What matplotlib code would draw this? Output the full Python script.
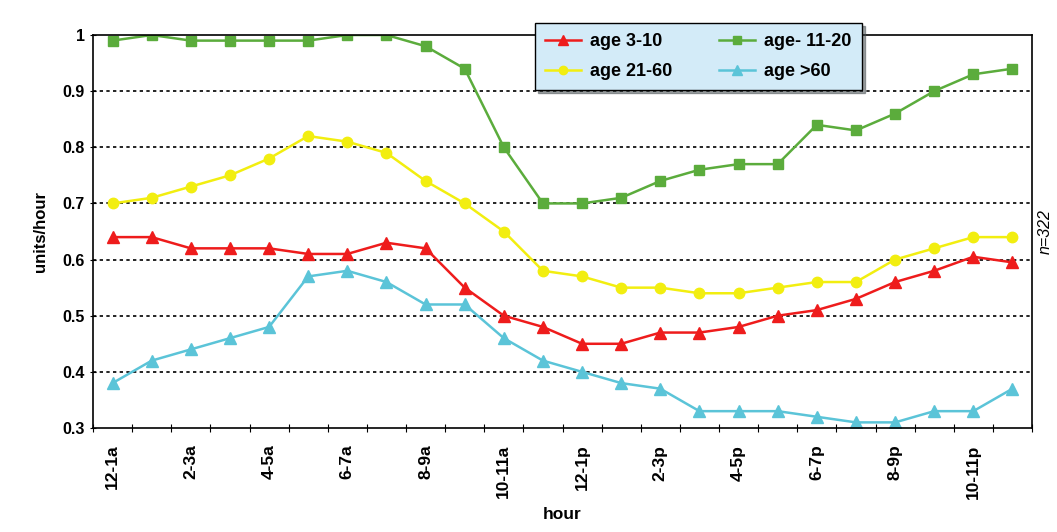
import numpy as np
import matplotlib.pyplot as plt
import matplotlib
matplotlib.rcParams.update({'font.family': ['Liberation Sans', 'DejaVu Sans'], 'font.size': 11})

hours = ['12-1a', '1-2a', '2-3a', '3-4a', '4-5a', '5-6a', '6-7a', '7-8a', '8-9a', '9-10a',
         '10-11a', '11-12a', '12-1p', '1-2p', '2-3p', '3-4p', '4-5p', '5-6p', '6-7p', '7-8p',
         '8-9p', '9-10p', '10-11p', '11-12p']

age_3_10 = [0.64, 0.64, 0.62, 0.62, 0.62, 0.61, 0.61, 0.63, 0.62, 0.55, 0.50, 0.48,
            0.45, 0.45, 0.47, 0.47, 0.48, 0.50, 0.51, 0.53, 0.56, 0.58, 0.605, 0.595]
age_11_20 = [0.99, 1.00, 0.99, 0.99, 0.99, 0.99, 1.00, 1.00, 0.98, 0.94, 0.80, 0.70,
             0.70, 0.71, 0.74, 0.76, 0.77, 0.77, 0.84, 0.83, 0.86, 0.90, 0.93, 0.94]
age_21_60 = [0.70, 0.71, 0.73, 0.75, 0.78, 0.82, 0.81, 0.79, 0.74, 0.70, 0.65, 0.58,
             0.57, 0.55, 0.55, 0.54, 0.54, 0.55, 0.56, 0.56, 0.60, 0.62, 0.64, 0.64]
age_60_plus = [0.38, 0.42, 0.44, 0.46, 0.48, 0.57, 0.58, 0.56, 0.52, 0.52, 0.46, 0.42,
               0.40, 0.38, 0.37, 0.33, 0.33, 0.33, 0.32, 0.31, 0.31, 0.33, 0.33, 0.37]

fig = plt.figure(figsize=(10.57, 5.32), dpi=100)
ax = fig.add_axes([93/1057, 1 - 428/532, (1032 - 93)/1057, (428 - 35)/532])

xs = np.arange(len(hours))
l1, = ax.plot(xs, age_3_10, c='#ee1c1c', lw=1.8, marker='^', ms=9, label='age 3-10')
l2, = ax.plot(xs, age_11_20, c='#5bac3c', lw=1.8, marker='s', ms=7.5, label='age- 11-20')
l3, = ax.plot(xs, age_21_60, c='#f2ee10', lw=1.8, marker='o', ms=7.5, label='age 21-60')
l4, = ax.plot(xs, age_60_plus, c='#5bc4d8', lw=1.8, marker='^', ms=9, label='age >60')

ax.set_xlim(-0.5, len(hours) - 0.5)
ax.set_ylim(0.3, 1.0)
ax.set_yticks(np.arange(0.3, 1.01, 0.1))
ax.set_yticklabels(['0.3', '0.4', '0.5', '0.6', '0.7', '0.8', '0.9', '1'], fontweight='bold',
                   fontsize=11.5)
for y in np.arange(0.4, 0.95, 0.1):
    ax.axhline(y, color='black', lw=1.2, ls=(0, (2, 2)), zorder=0)

ax.set_xticks(np.arange(-0.5, len(hours), 1), minor=False)
ax.set_xticklabels([])
ax.set_xticks(xs[::2], minor=True)
ax.set_xticklabels(hours[::2], minor=True, rotation=90, fontweight='bold', fontsize=12.5)
ax.tick_params(axis='x', which='minor', length=0, pad=12)
ax.tick_params(axis='x', which='major', length=6, direction='inout')
ax.tick_params(axis='y', length=5, direction='inout')

for s in ax.spines.values():
    s.set_linewidth(1.2)

ax.set_xlabel('hour', fontweight='bold', fontsize=12.5, labelpad=6)
ax.set_ylabel('units/hour', fontweight='bold', fontsize=12, labelpad=10)
fig.text(1045/1057, 1 - 232/532, 'n=322', rotation=90, style='italic',
         ha='center', va='center', fontsize=11.5)

leg = fig.legend(handles=[l1, l3, l2, l4], ncol=2, loc='upper left',
                 bbox_to_anchor=(526/1057, 1 - 14/532), frameon=True, fancybox=False,
                 shadow=True, facecolor='#d3ebf8', edgecolor='black', framealpha=1,
                 handlelength=2.0, handletextpad=0.5, columnspacing=2.6, labelspacing=0.75,
                 markerscale=0.8, prop={'weight': 'bold', 'size': 13}, borderpad=0.55)
leg.get_frame().set_linewidth(1.0)

fig.savefig('out.png', dpi=100)
